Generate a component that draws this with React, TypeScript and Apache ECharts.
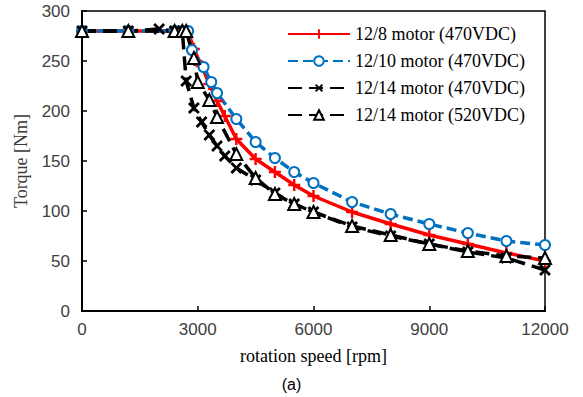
import React, { useEffect, useRef } from "react";
import * as echarts from "echarts";

const seriesNames = [
  "12/8 motor (470VDC)",
  "12/10 motor (470VDC)",
  "12/14 motor (470VDC)",
  "12/14 motor (520VDC)",
];

const speed8 = [0, 1200, 2400, 2600, 2750, 2900, 3100, 3300, 3500, 3700, 4000, 4500, 5000, 5500, 6000, 7000, 8000, 9000, 10000, 11000, 12000];
const torque8 = [280, 280, 280, 280, 280, 262, 245, 227, 210, 195, 172, 152, 139, 126, 115, 99, 87, 76, 67, 58, 50];

const speed10 = [0, 1200, 2400, 2600, 2750, 2850, 3150, 3350, 3500, 4000, 4500, 5000, 5500, 6000, 7000, 8000, 9000, 10000, 11000, 12000];
const torque10 = [280, 280, 280, 280, 280, 261, 244, 229, 218, 192, 169, 153, 139, 128, 109, 97, 87, 78, 70, 66];

const speed14a = [0, 1200, 2000, 2400, 2600, 2700, 2900, 3100, 3300, 3500, 3700, 4000, 4500, 5000, 5500, 6000, 7000, 8000, 9000, 10000, 11000, 12000];
const torque14a = [280, 280, 282, 280, 280, 230, 203, 189, 176, 165, 155, 143, 131, 118, 107, 99, 84, 75, 67, 59, 53, 41];

const speed14b = [0, 1200, 2400, 2600, 2700, 2900, 3000, 3300, 3500, 4000, 4500, 5000, 5500, 6000, 7000, 8000, 9000, 10000, 11000, 12000];
const torque14b = [280, 280, 280, 280, 280, 253, 229, 211, 194, 157, 133, 117, 107, 99, 85, 76, 67, 60, 55, 53];

const xMin = 0, xMax = 12000, xStep = 3000;
const yMin = 0, yMax = 300, yStep = 50;

const pair = (xs: number[], ys: number[]) => xs.map((x, i) => [x, ys[i]]);

const PLUS = "path://M4,0H6V4H10V6H6V10H4V6H0V4H4Z";
const SERIF = "'Liberation Serif', 'Times New Roman', serif";
const SANS = "'Liberation Sans', Arial, sans-serif";

export default function App() {
  const ref = useRef<HTMLDivElement>(null);
  useEffect(() => {
    const chart = echarts.init(ref.current!, null, { renderer: "svg" });
    chart.setOption({
      animation: false,
      backgroundColor: "#ffffff",
      title: {
        text: "(a)",
        left: "center",
        top: 371,
        textStyle: { fontFamily: SANS, fontSize: 16, fontWeight: "normal", color: "#000" },
      },
      grid: {
        left: 82,
        right: 38,
        top: 11,
        bottom: 86,
        show: true,
        borderColor: "#000",
        borderWidth: 1.5,
      },
      legend: {
        orient: "vertical",
        left: 282,
        top: 20,
        itemWidth: 62,
        itemHeight: 12,
        itemGap: 9,
        data: seriesNames,
        textStyle: { fontFamily: SERIF, fontSize: 18, color: "#000" },
      },
      xAxis: {
        type: "value",
        min: xMin,
        max: xMax,
        interval: xStep,
        name: "rotation speed [rpm]",
        nameLocation: "middle",
        nameGap: 36,
        nameTextStyle: { fontFamily: SERIF, fontSize: 18, color: "#000" },
        axisLine: { lineStyle: { color: "#000", width: 2 } },
        axisTick: { inside: true, length: 5, lineStyle: { color: "#000", width: 1.5 } },
        axisLabel: {
          fontFamily: SANS,
          fontSize: 17,
          color: "#404040",
          margin: 10,
          formatter: (v: number) => String(v),
        },
        splitLine: { show: false },
      },
      yAxis: {
        type: "value",
        min: yMin,
        max: yMax,
        interval: yStep,
        name: "Torque [Nm]",
        nameLocation: "middle",
        nameGap: 52,
        nameTextStyle: { fontFamily: SERIF, fontSize: 18, color: "#3a3a3a" },
        axisLine: { show: true, lineStyle: { color: "#000", width: 2 } },
        axisTick: { show: true, inside: true, length: 5, lineStyle: { color: "#000", width: 1.5 } },
        axisLabel: {
          fontFamily: SANS,
          fontSize: 17,
          color: "#404040",
          margin: 12,
          formatter: (v: number) => String(v),
        },
        splitLine: { show: false },
      },
      series: [
        {
          name: seriesNames[0],
          type: "line",
          data: pair(speed8, torque8),
          smooth: false,
          symbol: PLUS,
          symbolSize: 12,
          lineStyle: { color: "#ff0000", width: 3.5 },
          itemStyle: { color: "#ff0000" },
        },
        {
          name: seriesNames[1],
          type: "line",
          data: pair(speed10, torque10),
          symbol: "emptyCircle",
          symbolSize: 10,
          lineStyle: { color: "#0070c0", width: 3.5, type: [10, 5] },
          itemStyle: { color: "#0070c0", borderColor: "#0070c0", borderWidth: 2.5 },
        },
        {
          name: seriesNames[2],
          type: "line",
          data: pair(speed14a, torque14a),
          symbol: PLUS,
          symbolRotate: 45,
          symbolSize: 14,
          lineStyle: { color: "#000", width: 3.5, type: [14, 7] },
          itemStyle: { color: "#000" },
        },
        {
          name: seriesNames[3],
          type: "line",
          data: pair(speed14b, torque14b),
          symbol: "emptyTriangle",
          symbolSize: 12,
          lineStyle: { color: "#000", width: 3.5, type: [14, 7] },
          itemStyle: { color: "#000", borderColor: "#000", borderWidth: 2 },
        },
      ],
    });
    return () => chart.dispose();
  }, []);
  return (
    <div
      ref={ref}
      style={{ position: "fixed", left: 0, top: 0, width: 583, height: 397 }}
    />
  );
}
